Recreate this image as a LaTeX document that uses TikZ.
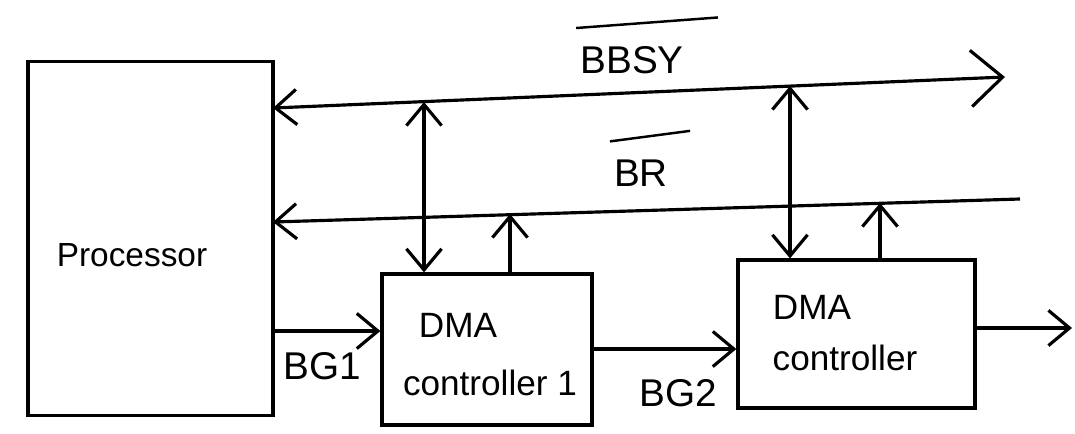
\documentclass[tikz,border=0pt]{standalone}
\usepackage{fontspec}
\setmainfont{Liberation Sans}
\usetikzlibrary{arrows.meta}
\begin{document}
\begin{tikzpicture}[x=0.01cm,y=-0.01cm,
  box/.style={draw, line width=0.9pt, minimum width=#1, inner sep=0pt},
  wire/.style={line width=0.9pt},
  arr/.style={wire, -{Straight Barb[length=6pt,width=10pt]}},
  darr/.style={wire, {Straight Barb[length=6pt,width=10pt]}-{Straight Barb[length=6pt,width=10pt]}},
  lbl/.style={font=\fontsize{11pt}{13pt}\selectfont, inner sep=1pt},
  blbl/.style={font=\fontsize{10pt}{12pt}\selectfont, inner sep=1pt, align=center}]
\useasboundingbox (0,0) rectangle (1075,433);
% boxes
\node[box=2.45cm, minimum height=3.53cm] (proc) at (150.5,238.5) {};
\node[lbl, font=\fontsize{9.5pt}{12pt}\selectfont] (proct) at (132,255) {Processor};
\node[box=2.10cm, minimum height=1.51cm] (dma1) at (487,349.5) {};
\node[blbl] (d1a) at (458,325) {DMA};
\node[blbl] (d1b) at (490,383) {controller 1};
\node[box=2.37cm, minimum height=1.48cm] (dma2) at (856.5,334) {};
\node[blbl] (d2a) at (812,307) {DMA};
\node[blbl] (d2b) at (845,358) {controller};
% bus lines
\coordinate (bbsyL) at (273,108);
\coordinate (bbsyR) at (1005,77);
\coordinate (brL) at (273,222);
\coordinate (brR) at (1020,199);
\draw[wire, {Straight Barb[length=6pt,width=10pt]}-{Straight Barb[length=9pt,width=16pt]}] (bbsyL) -- (bbsyR);
\draw[arr] (brR) -- (brL);
% labels
\node[lbl] (bbsy) at (632,60) {BBSY};
\draw[wire, line width=0.7pt] ([yshift=4pt]bbsy.north west) -- ([xshift=0.3cm,yshift=7pt]bbsy.north east);
\node[lbl] (br) at (641,173) {BR};
\draw[wire, line width=0.7pt] ([yshift=4pt]br.north west) -- ([xshift=0.18cm,yshift=7pt]br.north east);
% vertical connectors
\coordinate (b1) at (424,102);
\coordinate (b2) at (790,86);
\coordinate (r1) at (510,214);
\coordinate (r2) at (880,203);
\draw[darr] (b1) -- (dma1.north -| b1);
\draw[darr] (b2) -- (dma2.north -| b2);
\draw[arr] (dma1.north -| r1) -- (r1);
\draw[arr] (dma2.north -| r2) -- (r2);
% grant chain
\coordinate (y1) at (0,331);
\coordinate (y2) at (0,349);
\coordinate (y3) at (0,328);
\coordinate (out) at (1072,328);
\draw[arr] (proc.east |- y1) -- (dma1.west |- y1);
\draw[arr] (dma1.east |- y2) -- (dma2.west |- y2);
\draw[arr] (dma2.east |- y3) -- (out);
\node[lbl] (bg1) at (322,366) {BG1};
\node[lbl] (bg2) at (678,393) {BG2};
\end{tikzpicture}
\end{document}
